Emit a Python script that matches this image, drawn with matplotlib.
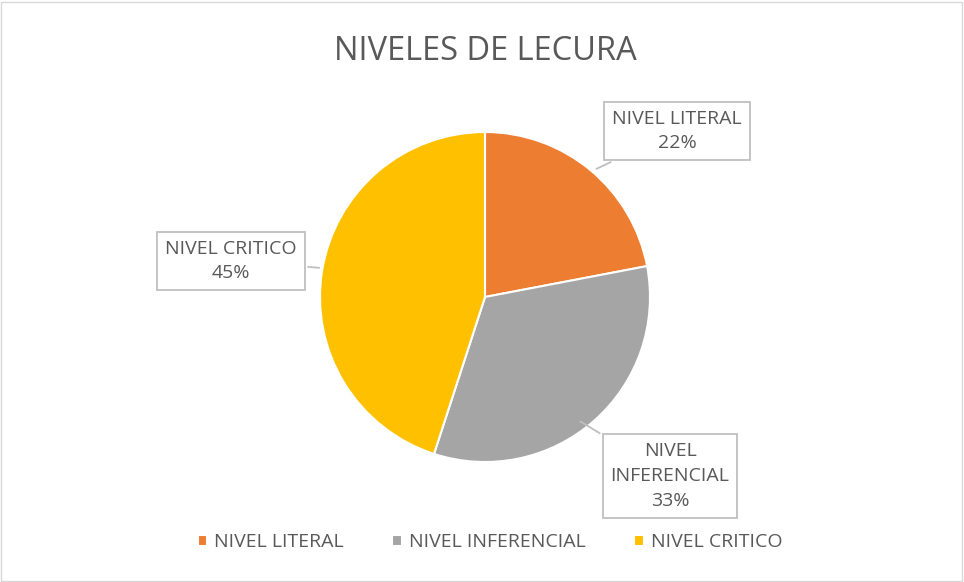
import matplotlib.pyplot as plt
from matplotlib.patches import Rectangle

plt.rcParams['font.family'] = ['Open Sans', 'DejaVu Sans']

title = 'NIVELES DE LECURA'
categories = ['NIVEL LITERAL', 'NIVEL INFERENCIAL', 'NIVEL CRITICO']
values = [22, 33, 45]
colors = ['#ED7D31', '#A5A5A5', '#FFC000']
callout_labels = ['NIVEL LITERAL\n22%', 'NIVEL\nINFERENCIAL\n33%', 'NIVEL CRITICO\n45%']

W, H = 964, 582
text_color = '#595959'

fig = plt.figure(figsize=(W / 100, H / 100), dpi=100)
ax = fig.add_axes([0, 0, 1, 1])

# outer chart border
ax.add_patch(Rectangle((1, 1), W - 3, H - 3, fill=False, edgecolor='#D9D9D9', lw=1))

center = (485, H - 297)
wedges, _ = ax.pie(values, colors=colors, startangle=90, counterclock=False,
                   center=center, radius=165,
                   wedgeprops=dict(edgecolor='white', linewidth=1.5))
ax.set_xlim(0, W)
ax.set_ylim(0, H)
ax.set_aspect('equal')
ax.axis('off')

ax.text(W / 2 + 3, H - 51, title, ha='center', va='center', fontsize=23.5, color=text_color)

# callouts: (text position, tail point on slice)
callout_pos = [(677, H - 131), (670, H - 476), (231, H - 261)]
tail_pts = [(594, H - 170), (578, H - 420), (322, H - 268)]
for lbl, (tx, ty), (px, py) in zip(callout_labels, callout_pos, tail_pts):
    ax.annotate(lbl, xy=(px, py), xytext=(tx, ty), ha='center', va='center',
                fontsize=14, color=text_color, linespacing=1.5,
                bbox=dict(boxstyle='square,pad=0.4', fc='white', ec='#BFBFBF', lw=1.3),
                arrowprops=dict(arrowstyle='-', color='#BFBFBF', lw=1.3))

leg = ax.legend(wedges, categories, loc='center', bbox_to_anchor=(490 / W, 1 - 542 / H),
                ncol=3, frameon=False, fontsize=14, handlelength=0.5, handleheight=0.5,
                handletextpad=0.35, columnspacing=2.5)
for t in leg.get_texts():
    t.set_color(text_color)

fig.savefig('out.png', dpi=100, facecolor='white')
